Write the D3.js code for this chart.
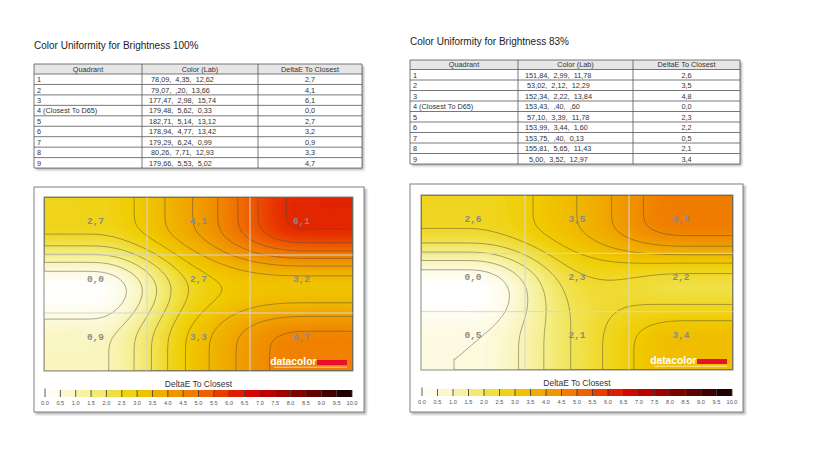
<!DOCTYPE html>
<html>
<head>
<meta charset="utf-8">
<script src="https://cdn.jsdelivr.net/npm/d3@7"></script>
<style>
  body { margin: 0; background: #fff; }
  svg { display: block; font-family: "Liberation Sans", Arial, sans-serif; }
</style>
</head>
<body>
<svg id="chart" width="835" height="470"></svg>
<script>
var tableColumns = ['Quadrant', 'Color (Lab)', 'DeltaE To Closest'];
var quadrantNames = ['1', '2', '3', '4 (Closest To D65)', '5', '6', '7', '8', '9'];

var labColors100 = [' 78,09,  4,35,  12,62', ' 79,07,  ,20,  13,66', '177,47,  2,98,  15,74',
                    '179,48,  5,62,  0,33', '182,71,  5,14,  13,12', '178,94,  4,77,  13,42',
                    '179,29,  6,24,  0,99', ' 80,26,  7,71,  12,93', '179,66,  5,53,  5,02'];
var deltaE100 = [2.7, 4.1, 6.1, 0.0, 2.7, 3.2, 0.9, 3.3, 4.7];

var labColors83 = ['151,84,  2,99,  11,78', ' 53,02,  2,12,  12,29', '152,34,  2,22,  13,84',
                   '153,43,  ,40,  ,60', ' 57,10,  3,39,  11,78', '153,99,  3,44,  1,60',
                   '153,75,  ,40,  0,13', '155,81,  5,65,  11,43', '  5,00,  3,52,  12,97'];
var deltaE83 = [2.6, 3.5, 4.8, 0.0, 2.3, 2.2, 0.5, 2.1, 3.4];

var legendTicks = [0, 0.5, 1, 1.5, 2, 2.5, 3, 3.5, 4, 4.5, 5, 5.5, 6, 6.5, 7, 7.5, 8, 8.5, 9, 9.5, 10];
var legendTitle = 'DeltaE To Closest';

// colour at each legend tick
var colorStops = ['#ffffff', '#fdfae0', '#f9f4b8', '#f5ee8c', '#f1e45a', '#f0d828', '#f0cc00',
                  '#f0b800', '#f0a200', '#f08a00', '#f07000', '#ee5000', '#e42a00', '#dc1000',
                  '#cc0000', '#b00000', '#900000', '#700000', '#500000', '#300000', '#100000'];

var colorScale = d3.scaleLinear().domain(legendTicks).range(colorStops).clamp(true);
var formatDE = function(v) { return d3.format('.1f')(v).replace('.', ','); };

var svg = d3.select('#chart');
var defs = svg.append('defs');
defs.append('filter')
    .attr('id', 'shadow')
    .attr('x', '-5%').attr('y', '-5%')
    .attr('width', '115%').attr('height', '115%')
  .append('feDropShadow')
    .attr('dx', 2).attr('dy', 2)
    .attr('stdDeviation', 1.2)
    .attr('flood-color', '#777')
    .attr('flood-opacity', 0.55);

/**
 * One "Color Uniformity" block: title, table, heat map and legend.
 */
function UniformityPanel(container, options, labColors, deltaE) {
  this.container_ = container;
  this.options_ = options;
  this.labColors_ = labColors;
  this.deltaE_ = deltaE;

  this.renderTable();
  this.renderHeatmap();
  this.renderLegend();
}

UniformityPanel.prototype.renderTable = function() {
  var o = this.options_;
  var g = this.container_.append('g');
  var cols = o.tableCols;
  var headH = o.headH, rowH = o.rowH;
  var top = o.tableTop;
  var height = headH + rowH * quadrantNames.length;

  g.append('text')
   .attr('x', cols[0]).attr('y', o.titleY)
   .attr('font-size', 10).attr('fill', '#222')
   .text(o.title);

  g.append('rect')
   .attr('x', cols[0]).attr('y', top)
   .attr('width', cols[3] - cols[0]).attr('height', height)
   .attr('fill', '#fff').attr('filter', 'url(#shadow)');

  g.append('rect')
   .attr('x', cols[0]).attr('y', top)
   .attr('width', cols[3] - cols[0]).attr('height', headH)
   .attr('fill', '#e6e6e6');

  // horizontal rules
  g.selectAll('line.row')
   .data(d3.range(quadrantNames.length + 2))
   .enter().append('line')
   .attr('x1', cols[0]).attr('x2', cols[3])
   .attr('y1', function(i) { return i === 0 ? top : top + headH + rowH * (i - 1); })
   .attr('y2', function(i) { return i === 0 ? top : top + headH + rowH * (i - 1); })
   .attr('stroke', '#555').attr('stroke-width', 0.8);

  g.selectAll('line.col')
   .data(cols)
   .enter().append('line')
   .attr('x1', function(d) { return d; }).attr('x2', function(d) { return d; })
   .attr('y1', top).attr('y2', top + height)
   .attr('stroke', '#555').attr('stroke-width', 0.8);

  g.selectAll('text.head')
   .data(tableColumns)
   .enter().append('text')
   .attr('x', function(d, i) { return (cols[i] + cols[i + 1]) / 2; })
   .attr('y', top + headH - 2.4)
   .attr('text-anchor', 'middle')
   .attr('font-size', 7.3).attr('fill', '#333')
   .text(function(d) { return d; });

  var rows = g.selectAll('g.rowtext')
   .data(quadrantNames)
   .enter().append('g')
   .attr('transform', function(d, i) {
     return 'translate(0,' + (top + headH + rowH * (i + 1) - 2.4) + ')';
   });

  rows.append('text')
   .attr('x', cols[0] + 3)
   .attr('font-size', 7.3).attr('fill', '#333')
   .text(function(d) { return d; });

  rows.append('text')
   .attr('x', cols[1] + 7)
   .attr('font-size', 7.3).attr('fill', '#333')
   .style('white-space', 'pre')
   .text(function(d, i) { return this.labColors_[i]; }.bind(this));

  rows.append('text')
   .attr('x', (cols[2] + cols[3]) / 2)
   .attr('text-anchor', 'middle')
   .attr('font-size', 7.3).attr('fill', '#333')
   .text(function(d, i) { return formatDE(this.deltaE_[i]); }.bind(this));
};

/**
 * Cubic Hermite through three node values: Catmull-Rom slope in the
 * middle, flat at both ends, held constant past the end nodes.
 */
UniformityPanel.prototype.hermite = function(v, t) {
  t = Math.max(0, Math.min(2, t));
  var d = [0, (v[2] - v[0]) / 2, 0];
  var k = Math.min(1, Math.floor(t));
  var s = t - k;
  var s2 = s * s, s3 = s2 * s;
  return (2 * s3 - 3 * s2 + 1) * v[k] + (s3 - 2 * s2 + s) * d[k] +
         (-2 * s3 + 3 * s2) * v[k + 1] + (s3 - s2) * d[k + 1];
};

UniformityPanel.prototype.valueAt = function(u, v) {
  var de = this.deltaE_;
  var tx = u * 3 - 0.5, ty = v * 3 - 0.5;
  var rowVals = [0, 1, 2].map(function(r) {
    return this.hermite([de[r * 3], de[r * 3 + 1], de[r * 3 + 2]], tx);
  }.bind(this));
  return this.hermite(rowVals, ty);
};

UniformityPanel.prototype.renderHeatmap = function() {
  var o = this.options_;
  var m = o.map;
  var f = o.frame;
  var g = this.container_.append('g');

  g.append('rect')
   .attr('x', f.x).attr('y', f.y).attr('width', f.w).attr('height', f.h)
   .attr('fill', '#fff').attr('stroke', '#808080').attr('stroke-width', 1)
   .attr('filter', 'url(#shadow)');

  var nx = Math.round(m.w / 2), ny = Math.round(m.h / 2);
  var values = new Float64Array(nx * ny);
  for (var j = 0; j < ny; j++) {
    for (var i = 0; i < nx; i++) {
      values[j * nx + i] = this.valueAt((i + 0.5) / nx, (j + 0.5) / ny);
    }
  }
  // soften the corners of the tensor-product surface
  d3.blur2({data: values, width: nx, height: ny}, 3);
  values = Array.from(values);

  var clipId = 'clip-' + o.id;
  defs.append('clipPath').attr('id', clipId)
      .append('rect').attr('width', m.w).attr('height', m.h);

  var mapG = g.append('g')
   .attr('transform', 'translate(' + m.x + ',' + m.y + ')');
  var inner = mapG.append('g').attr('clip-path', 'url(#' + clipId + ')');
  var scaled = inner.append('g')
   .attr('transform', 'scale(' + (m.w / nx) + ',' + (m.h / ny) + ')');

  var path = d3.geoPath();
  var bandThresholds = d3.range(-1, 10, 0.05);
  var bands = d3.contours().size([nx, ny]).thresholds(bandThresholds)(values)
                .filter(function(c) { return c.coordinates.length > 0; });

  scaled.append('rect')
   .attr('width', nx).attr('height', ny)
   .attr('fill', colorScale(d3.min(values)));

  scaled.selectAll('path.band')
   .data(bands)
   .enter().append('path')
   .attr('d', path)
   .attr('fill', function(d) { return colorScale(d.value + 0.025); })
   .attr('stroke', function(d) { return colorScale(d.value + 0.025); })
   .attr('stroke-width', 0.3);

  var lines = d3.contours().size([nx, ny]).thresholds(d3.range(0.5, 10, 0.5))(values)
                .filter(function(c) { return c.coordinates.length > 0; });

  scaled.selectAll('path.iso')
   .data(lines)
   .enter().append('path')
   .attr('d', path)
   .attr('fill', 'none')
   .attr('stroke', '#4e4a36')
   .attr('stroke-opacity', 0.6)
   .attr('stroke-width', 0.8)
   .attr('vector-effect', 'non-scaling-stroke');

  var xBand = d3.scaleBand().domain([0, 1, 2]).range([0, m.w]);
  var yBand = d3.scaleBand().domain([0, 1, 2]).range([0, m.h]);

  inner.selectAll('line.gx')
   .data([1, 2])
   .enter().append('line')
   .attr('x1', function(d) { return xBand(d); }).attr('x2', function(d) { return xBand(d); })
   .attr('y1', 0).attr('y2', m.h)
   .attr('stroke', '#d6d6d6').attr('stroke-width', 1);

  inner.selectAll('line.gy')
   .data([1, 2])
   .enter().append('line')
   .attr('y1', function(d) { return yBand(d); }).attr('y2', function(d) { return yBand(d); })
   .attr('x1', 0).attr('x2', m.w)
   .attr('stroke', '#d6d6d6').attr('stroke-width', 1);

  inner.selectAll('text.q')
   .data(this.deltaE_)
   .enter().append('text')
   .attr('x', function(d, i) { return xBand(i % 3) + xBand.bandwidth() / 2; })
   .attr('y', function(d, i) { return yBand(Math.floor(i / 3)) + yBand.bandwidth() / 2 - 2.5; })
   .attr('text-anchor', 'middle')
   .attr('font-family', '"Liberation Mono", "DejaVu Sans Mono", monospace')
   .attr('font-weight', 'bold')
   .attr('font-size', 9.5)
   .attr('fill', '#8a8a8a')
   .text(function(d) { return formatDE(d); });

  // datacolor mark
  inner.append('rect')
   .attr('x', m.w - 36).attr('y', m.h - 11)
   .attr('width', 30).attr('height', 5)
   .attr('fill', '#e8102a');
  inner.append('text')
   .attr('x', m.w - 36.5).attr('y', m.h - 5.8)
   .attr('text-anchor', 'end')
   .attr('font-weight', 'bold').attr('font-size', 10.3)
   .attr('fill', '#fff')
   .text('datacolor');
  inner.append('line')
   .attr('x1', m.w - 79).attr('x2', m.w - 6)
   .attr('y1', m.h - 3.8).attr('y2', m.h - 3.8)
   .attr('stroke', '#fff').attr('stroke-opacity', 0.8).attr('stroke-width', 0.8);

  mapG.append('rect')
   .attr('width', m.w).attr('height', m.h)
   .attr('fill', 'none').attr('stroke', '#8a8a80').attr('stroke-width', 1);
};

UniformityPanel.prototype.renderLegend = function() {
  var o = this.options_;
  var m = o.map;
  var g = this.container_.append('g');
  var x = d3.scaleLinear().domain([0, 10]).range([m.x + 1, m.x + m.w - 1]);
  var barY = m.y + m.h + 19;
  var barH = 7;

  g.append('text')
   .attr('x', m.x + m.w / 2).attr('y', m.y + m.h + 16)
   .attr('text-anchor', 'middle')
   .attr('font-size', 8.5).attr('fill', '#333')
   .text(legendTitle);

  var bins = d3.pairs(legendTicks);
  g.selectAll('rect.bin')
   .data(bins)
   .enter().append('rect')
   .attr('x', function(d) { return x(d[0]); })
   .attr('y', barY)
   .attr('width', function(d) { return x(d[1]) - x(d[0]); })
   .attr('height', barH)
   .attr('fill', function(d) { return colorScale((d[0] + d[1]) / 2); });

  g.selectAll('line.tick')
   .data(legendTicks)
   .enter().append('line')
   .attr('x1', function(d) { return x(d); }).attr('x2', function(d) { return x(d); })
   .attr('y1', function(d, i) { return i === 0 ? barY - 1.5 : barY; })
   .attr('y2', barY + barH)
   .attr('stroke', '#333').attr('stroke-width', 0.8);

  g.selectAll('text.tick')
   .data(legendTicks)
   .enter().append('text')
   .attr('x', function(d) { return x(d); })
   .attr('y', barY + barH + 8)
   .attr('text-anchor', 'middle')
   .attr('font-size', 5.6).attr('fill', '#555')
   .text(function(d) { return d3.format('.1f')(d); });
};

new UniformityPanel(svg, {
  id: 'b100',
  title: 'Color Uniformity for Brightness 100%',
  titleY: 49,
  tableCols: [34, 142, 258, 362],
  tableTop: 64,
  headH: 10,
  rowH: 10.45,
  frame: { x: 34, y: 187, w: 330, h: 225 },
  map: { x: 44, y: 197, w: 309, h: 174 }
}, labColors100, deltaE100);

new UniformityPanel(svg, {
  id: 'b83',
  title: 'Color Uniformity for Brightness 83%',
  titleY: 45,
  tableCols: [410, 518, 633, 740],
  tableTop: 60,
  headH: 9.5,
  rowH: 10.5,
  frame: { x: 410, y: 184, w: 333, h: 228 },
  map: { x: 421, y: 195, w: 312, h: 175 }
}, labColors83, deltaE83);
</script>
</body>
</html>
